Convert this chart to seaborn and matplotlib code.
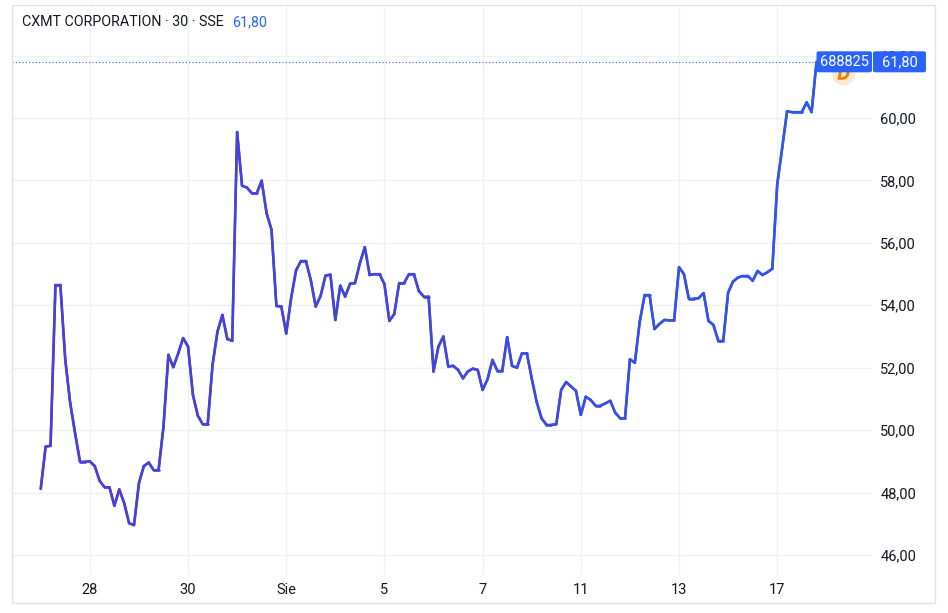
import matplotlib.pyplot as plt
import numpy as np
import pandas as pd
import seaborn as sns
from matplotlib.collections import LineCollection
from matplotlib.colors import LinearSegmentedColormap
from matplotlib.patches import Rectangle, FancyBboxPatch
from matplotlib.transforms import IdentityTransform

# 30-minute closes, CXMT (688825)
close = [
    48.12, 49.47, 49.50, 54.65, 54.65, 52.25, 50.87, 49.90, 48.99, 48.99,
    49.00, 48.85, 48.38, 48.17, 48.17, 47.58, 48.10, 47.66, 47.02, 46.96,
    48.30, 48.85, 48.96, 48.72, 48.72, 50.11, 52.41, 52.02, 52.46, 52.95,
    52.68, 51.13, 50.46, 50.19, 50.19, 52.10, 53.16, 53.69, 52.92, 52.86,
    59.55, 57.83, 57.77, 57.59, 57.59, 57.99, 56.95, 56.42, 53.98, 53.96,
    53.10, 54.23, 55.12, 55.42, 55.42, 54.81, 53.96, 54.30, 54.95, 54.98,
    53.53, 54.63, 54.28, 54.69, 54.71, 55.35, 55.86, 54.97, 55.00, 55.00,
    54.68, 53.50, 53.72, 54.71, 54.71, 55.00, 55.00, 54.46, 54.28, 54.28,
    51.88, 52.68, 53.00, 52.04, 52.06, 51.93, 51.66, 51.88, 51.97, 51.93,
    51.29, 51.63, 52.25, 51.90, 51.90, 52.98, 52.06, 52.00, 52.46, 52.46,
    51.66, 50.91, 50.38, 50.17, 50.17, 50.19, 51.29, 51.54, 51.40, 51.26,
    50.49, 51.07, 50.97, 50.78, 50.78, 50.86, 50.94, 50.56, 50.38, 50.38,
    52.27, 52.16, 53.48, 54.33, 54.33, 53.24, 53.40, 53.53, 53.52, 53.52,
    55.22, 55.00, 54.21, 54.21, 54.23, 54.39, 53.50, 53.37, 52.86, 52.86,
    54.41, 54.76, 54.89, 54.94, 54.94, 54.79, 55.10, 54.97, 55.06, 55.17,
    57.88, 59.03, 60.21, 60.19, 60.19, 60.19, 60.50, 60.19, 61.80,
]
tick_pos = [10, 30, 50, 70, 90, 110, 130, 150]
tick_labels = ["28", "30", "Sie", "5", "7", "11", "13", "17"]
y_ticks = [46, 48, 50, 52, 54, 56, 58, 60, 62]
symbol = "688825"
title = "CXMT CORPORATION · 30 · SSE"

df = pd.DataFrame({"bar": np.arange(len(close)), "close": close})
last = df.iloc[-1]
last_txt = f"{last['close']:.2f}".replace(".", ",")

sns.set_theme(style="white")
plt.rcParams["font.family"] = ["Roboto", "DejaVu Sans"]

W, H = 948, 613
fig = plt.figure(figsize=(W / 100, H / 100), dpi=100)
ax = fig.add_axes([12 / W, 38 / H, 860 / W, 570 / H])

txt = "#131722"
blue = "#2962FF"

# base line via seaborn, gradient overlay on top
sns.lineplot(data=df, x="bar", y="close", ax=ax, color="#4048dc", linewidth=1.7, zorder=3)
pts = df[["bar", "close"]].to_numpy().reshape(-1, 1, 2)
segs = np.concatenate([pts[:-1], pts[1:]], axis=1)
cmap = LinearSegmentedColormap.from_list("tv", ["#4d3ed4", "#4346dc", "#2f57ef"])
lc = LineCollection(segs, cmap=cmap, linewidth=1.9, zorder=4, capstyle="round", joinstyle="round")
lc.set_array(np.linspace(0, 1, len(segs)))
ax.add_collection(lc)

ax.set_xlim(-5.85, 169.3)
ax.set_ylim(45.36, 63.62)

ax.set_xticks(tick_pos)
ax.set_xticklabels(tick_labels)
ax.set_yticks(y_ticks)
ax.set_yticklabels([f"{v:.2f}".replace(".", ",") for v in y_ticks])
ax.yaxis.tick_right()
ax.tick_params(axis="both", length=0, labelsize=10.5, labelcolor=txt)
ax.tick_params(axis="y", pad=6)
ax.tick_params(axis="x", pad=6)
ax.set_xlabel("")
ax.set_ylabel("")
ax.grid(True, color="#f0f1f4", linewidth=1)
ax.set_axisbelow(True)
for s in ax.spines.values():
    s.set_visible(False)

# last price dotted line
ax.axhline(last["close"], color=blue, linestyle=(0, (1, 2)), linewidth=0.8, zorder=2)

# dividend marker, mostly hidden behind the label
fig.canvas.draw()
px, py = ax.transData.transform((last["bar"], last["close"]))
ax_right = ax.transAxes.transform((1, 0))[0]
mx, my = ax.transData.inverted().transform((px + 26, py - 11))
ax.plot([mx], [my], marker="o", markersize=17, color="#fde8d2", mec="none", zorder=5, clip_on=False)
ax.plot([mx], [my], marker="$D$", markersize=8, color="#f57c00", mec="#f57c00", zorder=5, clip_on=False)

# price labels on the right edge
bh = 21
boxes = [(px, ax_right - px, symbol), (ax_right + 1, 53, last_txt)]
for x0, w, label in boxes:
    fig.patches.append(FancyBboxPatch((x0, py - bh / 2), w, bh, boxstyle="round,pad=0,rounding_size=2",
                                      transform=IdentityTransform(), fc=blue, ec="none", zorder=6))
    fig.text((x0 + w / 2) / W, py / H, label, ha="center", va="center", color="white",
             fontsize=10.5, zorder=7)

# outer frame
fig.patches.append(Rectangle((12 / W, 10 / H), 923 / W, 598 / H, transform=fig.transFigure,
                             fill=False, ec="#e0e3eb", lw=1))

# header
t = fig.text(22 / W, 1 - 22 / H, title, ha="left", va="center", color=txt, fontsize=10.3)
fig.canvas.draw()
bb = t.get_window_extent()
fig.text((bb.x1 + 8) / W, 1 - 22 / H, last_txt, ha="left", va="center", color=blue, fontsize=10.3)

fig.savefig("out.png", dpi=100)
